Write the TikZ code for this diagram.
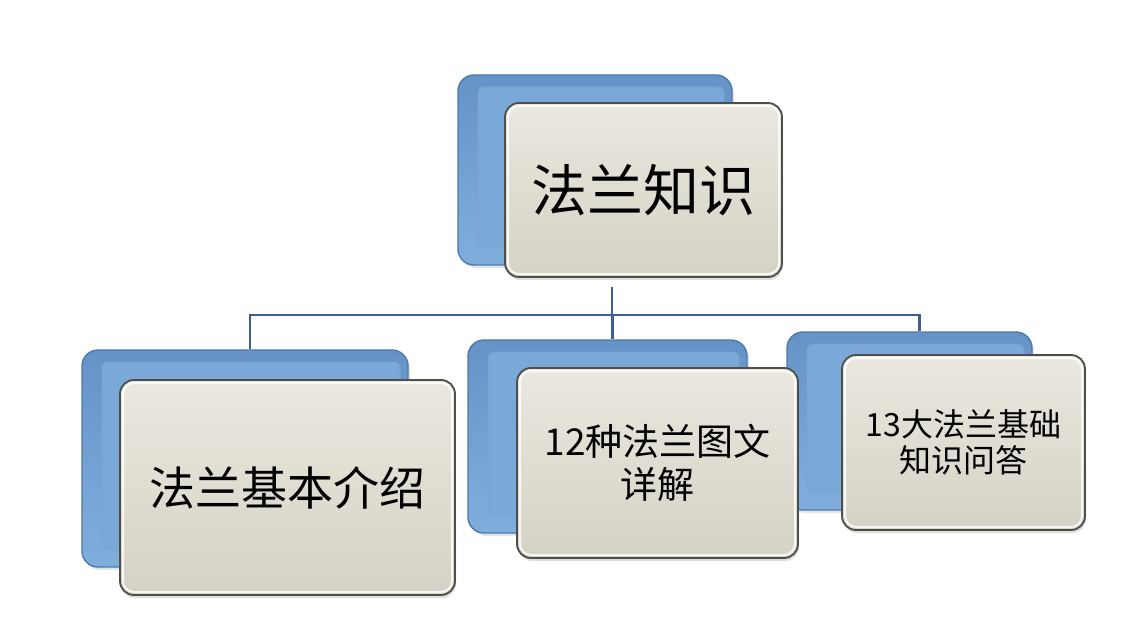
\documentclass[tikz,border=0pt]{standalone}
\usepackage{fontspec}
\newfontfamily\cjk{Noto Sans CJK SC}
\usepackage{tikz}
\usetikzlibrary{positioning, shadows}
\usepackage{xcolor}
\definecolor{bluerim}{HTML}{4C79AE}
\definecolor{bluetop}{HTML}{6593C7}
\definecolor{bluebot}{HTML}{80AEDC}
\definecolor{bluepanel}{HTML}{79A8D9}
\definecolor{beigetop}{HTML}{EAE8DF}
\definecolor{beigebot}{HTML}{D5D2C5}
\definecolor{framegray}{HTML}{4E4E4A}
\definecolor{linkblue}{HTML}{3E5F8E}

\begin{document}
\begin{tikzpicture}[x=1pt, y=-1pt,
    backbox/.style={draw=bluerim, line width=1.4pt, rounded corners=16pt, top color=bluetop, bottom color=bluebot, inner sep=0pt,
      path picture={\fill[bluepanel, draw=bluerim!70, line width=0.8pt, rounded corners=6pt] ([shift={(20pt,-12pt)}]path picture bounding box.north west) rectangle ([shift={(-8pt,18pt)}]path picture bounding box.south east);},
      drop shadow={shadow xshift=2pt, shadow yshift=-3pt, opacity=0.2}},
    frontbox/.style={draw=framegray, line width=1.8pt, rounded corners=14pt, top color=beigetop, bottom color=beigebot, inner sep=0pt, align=center,
      path picture={\draw[white, opacity=0.8, line width=2pt, rounded corners=11pt] ([shift={(3pt,-3pt)}]path picture bounding box.north west) rectangle ([shift={(-3pt,3pt)}]path picture bounding box.south east);},
      drop shadow={shadow xshift=1pt, shadow yshift=-3pt, opacity=0.25}},
    link/.style={draw=linkblue, line width=2.4pt}]
    \fill[white] (0,0) rectangle (1148,644);
    \useasboundingbox (0,0) rectangle (1148,644);

    \node[backbox, minimum width=274pt, minimum height=190pt] (rootback) at (595,170) {};
    \node[backbox, minimum width=326pt, minimum height=217pt] (leftback) at (245,458.5) {};
    \node[backbox, minimum width=279pt, minimum height=193pt] (midback) at (607.5,436.5) {};
    \node[backbox, minimum width=245pt, minimum height=178pt] (rightback) at (909.5,421) {};

    \node[frontbox, minimum width=277pt, minimum height=174pt, font=\cjk\fontsize{56pt}{60pt}\selectfont] (root) at (643.5,190) {法兰知识};
    \node[frontbox, minimum width=335pt, minimum height=215pt, font=\cjk\fontsize{46pt}{50pt}\selectfont] (basic) at (287.5,487.5) {法兰基本介绍};
    \node[frontbox, minimum width=281pt, minimum height=190pt, font=\cjk\fontsize{37pt}{43pt}\selectfont] (types) at (657.5,463) {12种法兰图文\\详解};
    \node[frontbox, minimum width=243pt, minimum height=175pt, font=\cjk\fontsize{32pt}{36pt}\selectfont] (qa) at (963.5,442.5) {13大法兰基础\\知识问答};

    \coordinate (bus) at (612,315);
    \draw[link, shorten <=9pt] (root.south -| bus) -- (bus);
    \draw[link] ([xshift=5pt]leftback.north) |- ([xshift=10pt]rightback.north |- bus) -- ([xshift=10pt]rightback.north);
    \draw[link] ([xshift=5pt]midback.north |- bus) -- ([xshift=5pt]midback.north);
\end{tikzpicture}
\end{document}
